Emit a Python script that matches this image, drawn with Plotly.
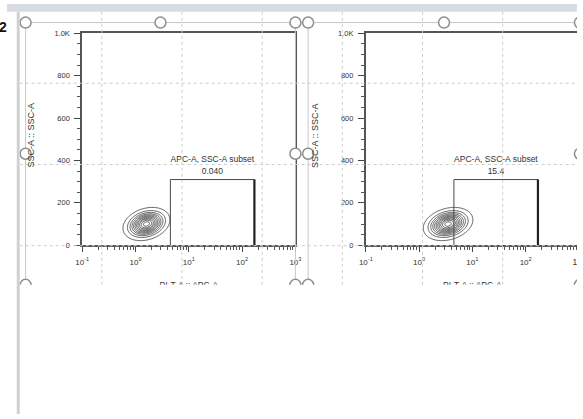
import numpy as np
import plotly.graph_objects as go

# ---------------- data ----------------
x_title = "PI-T-A :: APC-A"
y_title = "SSC-A :: SSC-A"
gate_name = "APC-A, SSC-A subset"
gate_pct = ["0.040", "15.4"]
gate_x = [4.5, 170.0]          # APC-A bounds of the gate
gate_y = [0.0, 310.0]          # SSC-A bounds of the gate
pop_center_x = [1.6, 3.5]      # APC-A centre of the population
pop_center_y = [100.0, 100.0]  # SSC-A centre
pop_spread_logx = [0.18, 0.19]
pop_spread_y = [32.0, 32.0]
pop_corr = [0.25, 0.25]
x_tickvals = [0.1, 1, 10, 100, 1000]
x_ticktext = ["10<sup>-1</sup>", "10<sup>0</sup>", "10<sup>1</sup>", "10<sup>2</sup>", "10<sup>3</sup>"]
y_tickvals = [0, 200, 400, 600, 800, 1000]
y_ticktext = ["0", "200", "400", "600", "800", "1.0K"]

# ---------------- layout geometry (pixels) ----------------
W, H = 583, 419
PX_PER_DECADE = 54.5
plot_left = [77, 367]
plot_right = [295, 583]
plot_top, plot_bottom = 30, 246.5
box_left = [19, 308]
box_right = [295, 586]
box_top, box_bottom = 19, 287
canvas_top, canvas_bottom, canvas_left = 8, 287, 13
grid_x = [97, 179, 261, 343, 425, 507]
grid_y = [81, 164, 247]

def px(v):
    return v / W

def py(v):
    return 1 - v / H

FONT = "Liberation Sans"
fig = go.Figure()

minor_x = [m * 10.0 ** d for d in range(-1, 3) for m in range(2, 10)]

for i in range(2):
    xa = "x" if i == 0 else "x2"
    ya = "y" if i == 0 else "y2"
    # density of the population
    lx = np.linspace(-1, 3, 260)
    yy = np.linspace(0, 1000, 400)
    LX, YY = np.meshgrid(lx, yy)
    u = (LX - np.log10(pop_center_x[i])) / pop_spread_logx[i]
    v = (YY - pop_center_y[i]) / pop_spread_y[i]
    r = pop_corr[i]
    z = np.exp(-0.5 / (1 - r * r) * (u * u - 2 * r * u * v + v * v))
    fig.add_trace(go.Contour(
        x=10 ** lx, y=yy, z=z, xaxis=xa, yaxis=ya,
        contours=dict(coloring="lines", start=0.05, end=0.96, size=0.09),
        colorscale=[[0, "#303030"], [1, "#303030"]], showscale=False,
        line=dict(width=0.8), hoverinfo="skip"))
    # gate rectangle
    fig.add_trace(go.Scatter(
        x=[gate_x[0], gate_x[0], gate_x[1], gate_x[1]],
        y=[gate_y[0], gate_y[1], gate_y[1], gate_y[0]],
        mode="lines", line=dict(color="#4a4a4a", width=1),
        xaxis=xa, yaxis=ya, hoverinfo="skip"))
    fig.add_trace(go.Scatter(
        x=[gate_x[1], gate_x[1]], y=[gate_y[0], gate_y[1]],
        mode="lines", line=dict(color="#222222", width=2.2),
        xaxis=xa, yaxis=ya, hoverinfo="skip"))
    gmid = float(np.sqrt(gate_x[0] * gate_x[1]))
    fig.add_trace(go.Scatter(
        x=[gmid, gmid], y=[404, 344], text=[gate_name, gate_pct[i]],
        mode="text", textfont=dict(family=FONT, size=8.5, color="#333333"),
        xaxis=xa, yaxis=ya, hoverinfo="skip"))

    width_px = plot_right[i] - plot_left[i]
    common_x = dict(
        type="log", domain=[px(plot_left[i]), min(1.0, px(plot_right[i]))],
        range=[-1, -1 + width_px / PX_PER_DECADE],
        tickmode="array", tickvals=x_tickvals, ticktext=x_ticktext,
        ticks="outside", ticklen=5, tickwidth=1.2, tickcolor="#444444",
        showline=True, linecolor="#555555", linewidth=1.8, mirror=True,
        showgrid=False, zeroline=False,
        tickfont=dict(family=FONT, size=8, color="#333333"),
        ticklabelstandoff=3,
        minor=dict(tickvals=minor_x, ticks="outside", ticklen=3, tickcolor="#555555", showgrid=False),
        anchor=ya)
    common_y = dict(
        domain=[py(plot_bottom), py(plot_top)], range=[0, 1000],
        tickmode="array", tickvals=y_tickvals, ticktext=y_ticktext,
        ticks="outside", ticklen=6, tickwidth=1.2, tickcolor="#444444",
        showline=True, linecolor="#555555", linewidth=1.8, mirror=(i == 0),
        showgrid=False, zeroline=False,
        tickfont=dict(family=FONT, size=7.5, color="#333333"),
        ticklabelstandoff=3,
        minor=dict(dtick=50, ticks="outside", ticklen=3, tickcolor="#555555", showgrid=False),
        anchor=xa)
    if i == 0:
        fig.update_layout(xaxis=common_x, yaxis=common_y)
    else:
        fig.update_layout(xaxis2=common_x, yaxis2=common_y)

# ---------------- layout-editor canvas (overlay subplot in pixel units) ----------------
gx, gy = [], []
for x in grid_x:
    gx += [x, x, None]
    gy += [canvas_top, canvas_bottom, None]
for y in grid_y:
    gx += [canvas_left, W, None]
    gy += [y, y, None]
fig.add_trace(go.Scatter(x=gx, y=gy, mode="lines", line=dict(color="#cdcdcd", width=1, dash="dot"),
                         xaxis="x3", yaxis="y3", hoverinfo="skip"))

bx, by, hx, hy = [], [], [], []
for i in range(2):
    l, r_ = box_left[i], box_right[i]
    m = (l + r_) / 2
    ym = (box_top + box_bottom) / 2
    bx += [l, l, r_, r_, None]
    by += [box_bottom, box_top, box_top, box_bottom, None]
    hx += [l, m, r_, l, r_, l, r_]
    hy += [box_top, box_top, box_top, ym, ym, box_bottom, box_bottom]
fig.add_trace(go.Scatter(x=bx, y=by, mode="lines", line=dict(color="#c8c8c8", width=1),
                         xaxis="x3", yaxis="y3", hoverinfo="skip"))
fig.add_trace(go.Scatter(x=hx, y=hy, mode="markers",
                         marker=dict(symbol="circle", size=11, color="white",
                                     line=dict(color="#8c8c8c", width=1.5)),
                         xaxis="x3", yaxis="y3", hoverinfo="skip"))
# x-axis titles (cut by the canvas edge) and the right panel's last tick label
fig.add_trace(go.Scatter(
    x=[(plot_left[0] + plot_right[0]) / 2, (plot_left[1] + 585) / 2, 585],
    y=[288, 288, 265],
    text=[x_title, x_title, "10<sup>3</sup>"], mode="text",
    textfont=dict(family=FONT, size=8.5, color="#333333"),
    xaxis="x3", yaxis="y3", hoverinfo="skip"))

fig.update_layout(
    xaxis3=dict(domain=[px(canvas_left), 1.0], range=[canvas_left, W], visible=False, anchor="y3"),
    yaxis3=dict(domain=[py(canvas_bottom), py(canvas_top)], range=[canvas_bottom, canvas_top],
                visible=False, anchor="x3"),
)

# y-axis titles
annotations = []
for xpos in [25, 315]:
    annotations.append(dict(x=px(xpos), y=py(134), xref="paper", yref="paper", text=y_title,
                            showarrow=False, textangle=-90, xanchor="center", yanchor="middle",
                            font=dict(family=FONT, size=9, color="#333333")))
annotations.append(dict(x=0, y=py(23), xref="paper", yref="paper", text="<b>2</b>",
                        showarrow=False, xanchor="right", yanchor="middle", xshift=2,
                        font=dict(family=FONT, size=14, color="#111111")))

fig.update_layout(
    width=W, height=H, margin=dict(l=0, r=0, t=0, b=0),
    paper_bgcolor="white", plot_bgcolor="rgba(0,0,0,0)", showlegend=False,
    annotations=annotations,
    shapes=[
        dict(type="rect", xref="paper", yref="paper", x0=0, x1=1, y0=py(canvas_top), y1=1,
             fillcolor="#d7dce3", line=dict(width=0), layer="below"),
        dict(type="rect", xref="paper", yref="paper", x0=px(10), x1=px(13), y0=0, y1=py(canvas_top),
             fillcolor="#d0d0d0", line=dict(width=0), layer="below"),
    ],
)

fig.write_html("out.html", config={"displayModeBar": False},
               post_script="document.body.style.margin='0';document.body.style.overflow='hidden';")
